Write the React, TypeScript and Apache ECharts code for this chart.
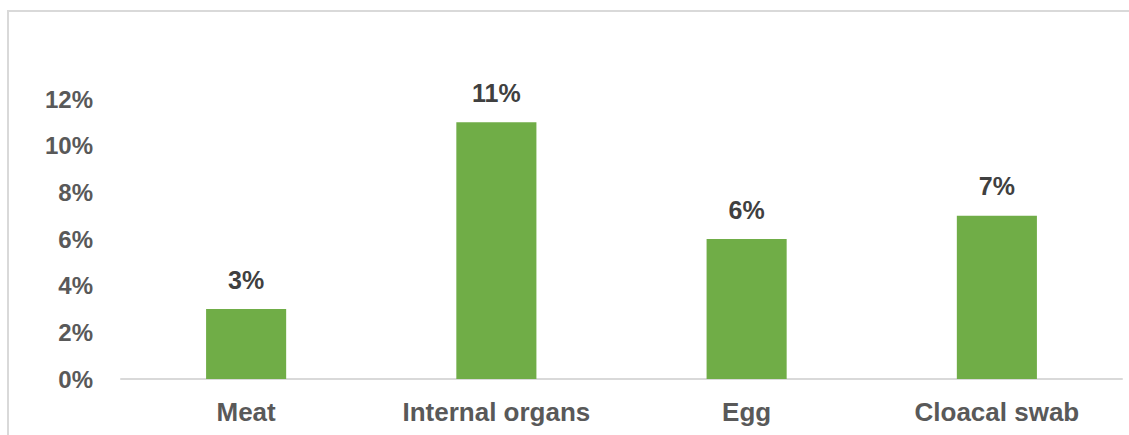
import React, { useEffect, useRef } from "react";
import * as echarts from "echarts";

const categories = ["Meat", "Internal organs", "Egg", "Cloacal swab"];
const values = [3, 11, 6, 7];
const yMax = 12;
const yInterval = 2;

export default function App() {
  const ref = useRef<HTMLDivElement>(null);
  useEffect(() => {
    if (!ref.current) return;
    const chart = echarts.init(ref.current, undefined, { renderer: "svg" });
    const font = "'Liberation Sans', Arial, sans-serif";
    chart.setOption({
      animation: false,
      backgroundColor: "#ffffff",
      graphic: [
        {
          type: "line",
          shape: { x1: 8, y1: 11, x2: 1129, y2: 11 },
          style: { stroke: "#d9d9d9", lineWidth: 2 },
          silent: true,
        },
        {
          type: "line",
          shape: { x1: 8, y1: 10, x2: 8, y2: 435 },
          style: { stroke: "#d9d9d9", lineWidth: 2 },
          silent: true,
        },
      ],
      grid: { left: 121, right: 7, top: 99, bottom: 56, containLabel: false },
      xAxis: {
        type: "category",
        data: categories,
        axisLine: { show: true, lineStyle: { color: "#d9d9d9", width: 2 } },
        axisTick: { show: false },
        axisLabel: {
          color: "#595959",
          fontFamily: font,
          fontWeight: "bold",
          fontSize: 26,
          margin: 20,
        },
      },
      yAxis: {
        type: "value",
        min: 0,
        max: yMax,
        interval: yInterval,
        axisLine: { show: false },
        axisTick: { show: false },
        splitLine: { show: false },
        axisLabel: {
          color: "#595959",
          fontFamily: font,
          fontWeight: "bold",
          fontSize: 24,
          margin: 28,
          formatter: "{value}%",
        },
      },
      series: [
        {
          type: "bar",
          data: values,
          barWidth: "32%",
          itemStyle: { color: "#70AD47" },
          label: {
            show: true,
            position: "top",
            distance: 17,
            color: "#404040",
            fontFamily: font,
            fontWeight: "bold",
            fontSize: 25,
            formatter: "{c}%",
          },
        },
      ],
    });
    return () => chart.dispose();
  }, []);
  return (
    <div
      ref={ref}
      style={{ position: "absolute", left: 0, top: 0, width: 1129, height: 435 }}
    />
  );
}
